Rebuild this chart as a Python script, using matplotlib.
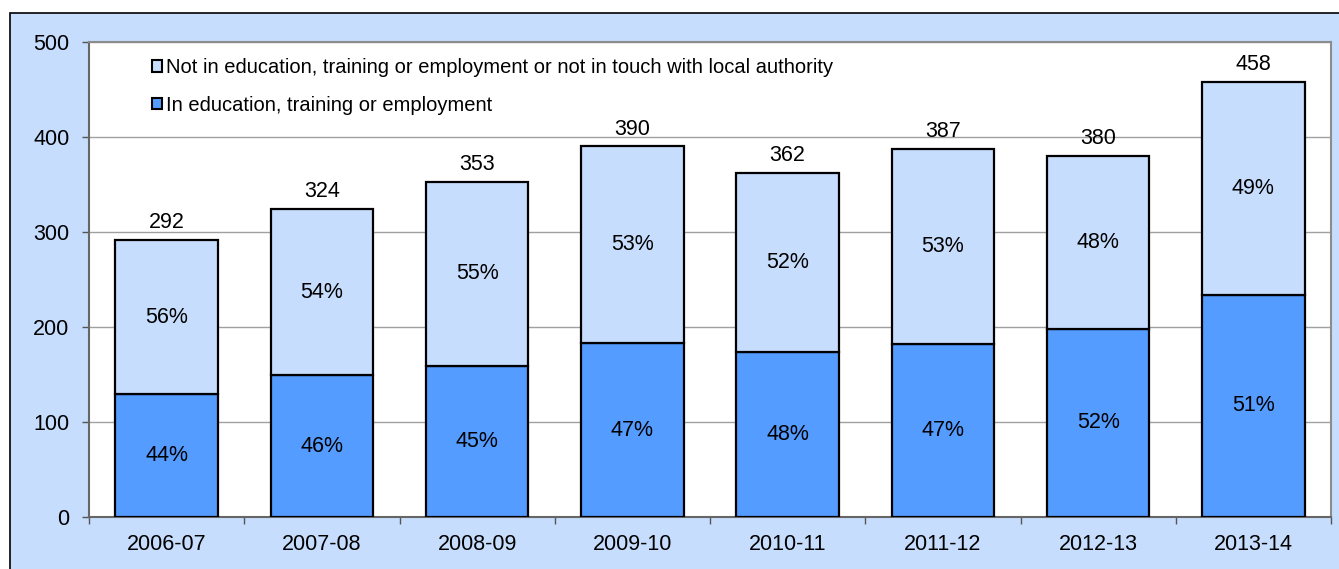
import numpy as np
import matplotlib.pyplot as plt
from matplotlib.patches import Patch, Rectangle

plt.rcParams['font.family'] = ['Liberation Sans', 'DejaVu Sans']

years = ['2006-07', '2007-08', '2008-09', '2009-10', '2010-11', '2011-12', '2012-13', '2013-14']
totals = [292, 324, 353, 390, 362, 387, 380, 458]
in_edu = [129, 149, 159, 183, 174, 182, 198, 234]
not_in = [163, 175, 194, 207, 188, 205, 182, 224]
pct_in = ['44%', '46%', '45%', '47%', '48%', '47%', '52%', '51%']
pct_not = ['56%', '54%', '55%', '53%', '52%', '53%', '48%', '49%']

lab_not = 'Not in education, training or employment or not in touch with local authority'
lab_in = 'In education, training or employment'

dark = '#549CFF'
light = '#C6DDFD'
fs = 15.5

fig = plt.figure(figsize=(13.39, 5.69), dpi=100)
fig.patch.set_facecolor('white')
# chart area background
bg = Rectangle((10 / 1339, -0.1), 1.2, 1.1 - 13 / 569,
               transform=fig.transFigure, facecolor=light,
               edgecolor='black', linewidth=1.2, zorder=-10)
fig.add_artist(bg)

ax = fig.add_axes([89 / 1339, 52 / 569, 1242 / 1339, 475 / 569])
ax.set_facecolor('white')

x = np.arange(len(years))
w = 0.66
ax.bar(x, in_edu, w, color=dark, edgecolor='black', linewidth=1.6, zorder=3)
ax.bar(x, not_in, w, bottom=in_edu, color=light, edgecolor='black', linewidth=1.6, zorder=3)

for i in range(len(years)):
    ax.text(x[i], in_edu[i] / 2, pct_in[i], ha='center', va='center', fontsize=fs, zorder=4)
    ax.text(x[i], in_edu[i] + not_in[i] / 2, pct_not[i], ha='center', va='center', fontsize=fs, zorder=4)
    ax.annotate(str(totals[i]), (x[i], totals[i]), xytext=(0, 5), textcoords='offset points',
                ha='center', va='bottom', fontsize=fs, zorder=4)

ax.set_xlim(-0.5, len(years) - 0.5)
ax.set_ylim(0, 500)
ax.set_yticks(range(0, 501, 100))
ax.set_xticks(x)
ax.set_xticklabels(years)
ax.set_xticks(np.arange(-0.5, len(years)), minor=True)
ax.tick_params(axis='x', which='major', length=0, pad=12, labelsize=fs)
ax.tick_params(axis='x', which='minor', length=5, width=1, color='#555555', direction='out')
ax.tick_params(axis='y', length=5, width=1, color='#555555', pad=9, labelsize=fs)

ax.grid(axis='y', color='#a0a0a0', linewidth=1, zorder=0)
ax.set_axisbelow(True)
for s in ['top', 'right']:
    ax.spines[s].set_color('#8c8c8c')
    ax.spines[s].set_linewidth(1.5)
for s in ['left', 'bottom']:
    ax.spines[s].set_color('#666666')
    ax.spines[s].set_linewidth(1.5)

handles = [Patch(facecolor=light, edgecolor='black', linewidth=1.5),
           Patch(facecolor=dark, edgecolor='black', linewidth=1.5)]
fig.legend(handles, [lab_not, lab_in], loc='upper left',
           bbox_to_anchor=(152 / 1339, 1 - 58 / 569), bbox_transform=fig.transFigure,
           frameon=False, fontsize=14.5, handlelength=0.5, handleheight=0.5,
           handletextpad=0.2, labelspacing=0.92, borderpad=0, borderaxespad=0)

fig.savefig('out.png', dpi=100)
